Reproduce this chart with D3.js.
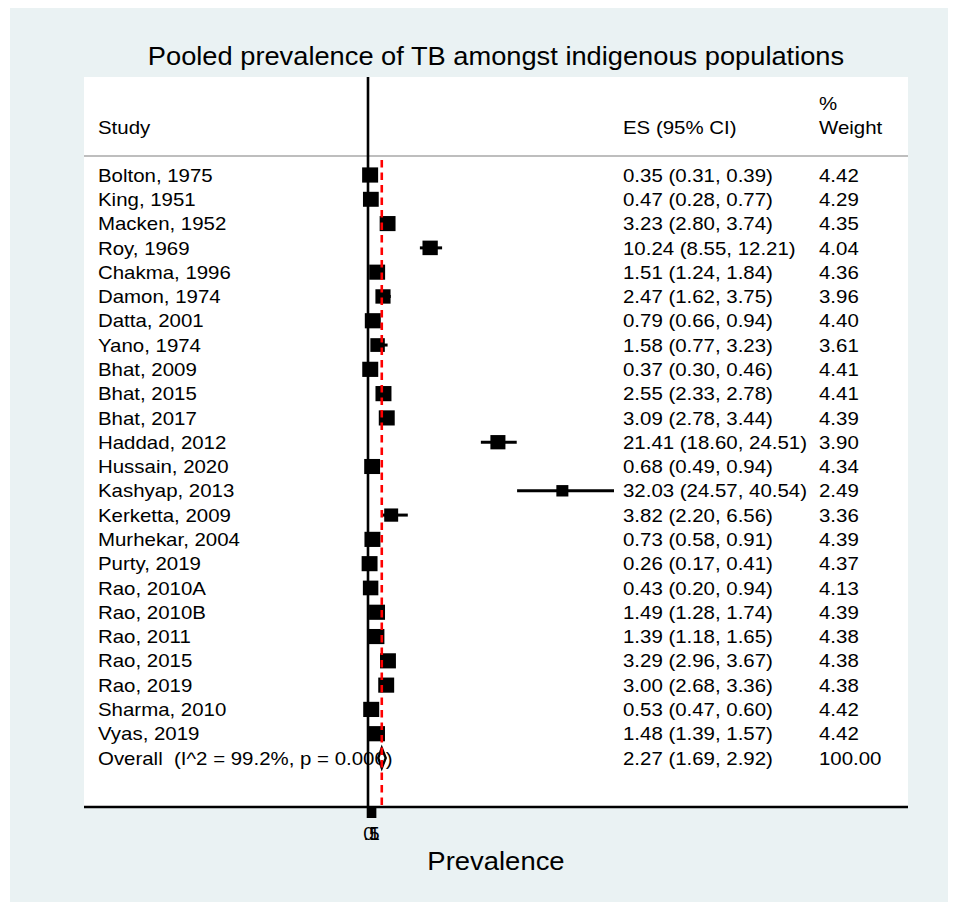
<!DOCTYPE html>
<html>
<head>
<meta charset="utf-8">
<script src="https://cdn.jsdelivr.net/npm/d3@7"></script>
<style>
  html, body { margin: 0; padding: 0; background: #ffffff; }
  svg { display: block; }
  text { font-family: "Liberation Sans", Arial, Helvetica, sans-serif; fill: #000; white-space: pre; }
</style>
</head>
<body>
<svg id="chart" width="958" height="910"></svg>
<script>
// ---------------- Data ----------------
const titleText = "Pooled prevalence of TB amongst indigenous populations";
const xLabel = "Prevalence";
const studies = ["Bolton, 1975", "King, 1951", "Macken, 1952", "Roy, 1969", "Chakma, 1996",
  "Damon, 1974", "Datta, 2001", "Yano, 1974", "Bhat, 2009", "Bhat, 2015", "Bhat, 2017",
  "Haddad, 2012", "Hussain, 2020", "Kashyap, 2013", "Kerketta, 2009", "Murhekar, 2004",
  "Purty, 2019", "Rao, 2010A", "Rao, 2010B", "Rao, 2011", "Rao, 2015", "Rao, 2019",
  "Sharma, 2010", "Vyas, 2019"];
const es = [0.35, 0.47, 3.23, 10.24, 1.51, 2.47, 0.79, 1.58, 0.37, 2.55, 3.09, 21.41, 0.68,
  32.03, 3.82, 0.73, 0.26, 0.43, 1.49, 1.39, 3.29, 3.00, 0.53, 1.48];
const lo = [0.31, 0.28, 2.80, 8.55, 1.24, 1.62, 0.66, 0.77, 0.30, 2.33, 2.78, 18.60, 0.49,
  24.57, 2.20, 0.58, 0.17, 0.20, 1.28, 1.18, 2.96, 2.68, 0.47, 1.39];
const hi = [0.39, 0.77, 3.74, 12.21, 1.84, 3.75, 0.94, 3.23, 0.46, 2.78, 3.44, 24.51, 0.94,
  40.54, 6.56, 0.91, 0.41, 0.94, 1.74, 1.65, 3.67, 3.36, 0.60, 1.57];
const weights = [4.42, 4.29, 4.35, 4.04, 4.36, 3.96, 4.40, 3.61, 4.41, 4.41, 4.39, 3.90, 4.34,
  2.49, 3.36, 4.39, 4.37, 4.13, 4.39, 4.38, 4.38, 4.38, 4.42, 4.42];
const overallLabel = "Overall  (I^2 = 99.2%, p = 0.000)";
const overallES = [2.27, 1.69, 2.92];   // estimate, lower, upper
const overallWeight = 100.00;
const tickValues = [0, 0.5, 1];
const tickLabels = ["0", ".5", "1"];
const headers = { study: "Study", es: "ES (95% CI)", pct: "%", weight: "Weight" };

// ---------------- Layout ----------------
const svg = d3.select("#chart");
const bg = "#EAF2F3";
const panel = { left: 84, right: 908, top: 77, bottom: 807 };
const fs = 19;
const stretch = 1.075;

svg.append("rect").attr("x", 10).attr("y", 8).attr("width", 938).attr("height", 894).attr("fill", bg);
svg.append("rect").attr("x", panel.left).attr("y", panel.top)
  .attr("width", panel.right - panel.left).attr("height", panel.bottom - panel.top).attr("fill", "#fff");

const x = d3.scaleLinear().domain([0, 40.54]).range([368, 614]);
const nRows = studies.length + 1;
const y = d3.scaleLinear().domain([0, nRows - 1]).range([175, 758]);
const sizeScale = d3.scaleSqrt().domain([0, 4.42]).range([0, 16]);

function widen(sel, k) {
  sel.each(function () {
    const len = this.getComputedTextLength();
    d3.select(this).attr("textLength", len * k).attr("lengthAdjust", "spacingAndGlyphs");
  });
  return sel;
}

// title
widen(svg.append("text").attr("class", "body").attr("x", (panel.left + panel.right) / 2).attr("y", 56)
  .attr("dy", "0.35em").attr("text-anchor", "middle").style("font-size", "26px").text(titleText), 1.048);

// headers
const colStudy = 98, colES = 623, colW = 819;
const hdr = svg.append("g");
hdr.append("text").attr("x", colStudy).attr("y", 127).attr("dy", "0.35em").style("font-size", fs + "px").text(headers.study);
hdr.append("text").attr("x", colES).attr("y", 127).attr("dy", "0.35em").style("font-size", fs + "px").text(headers.es);
hdr.append("text").attr("x", colW).attr("y", 103).attr("dy", "0.35em").style("font-size", fs + "px").text(headers.pct);
hdr.append("text").attr("x", colW).attr("y", 127).attr("dy", "0.35em").style("font-size", fs + "px").text(headers.weight);
widen(hdr.selectAll("text"), stretch);

// header rule
svg.append("line").attr("x1", panel.left).attr("x2", panel.right).attr("y1", 156).attr("y2", 156)
  .attr("stroke", "#BEBEBE").attr("stroke-width", 2);

// null line
svg.append("line").attr("x1", x(0)).attr("x2", x(0)).attr("y1", panel.top).attr("y2", panel.bottom)
  .attr("stroke", "#000").attr("stroke-width", 2.6);

// rows
const rows = studies.map((s, i) => ({ s, es: es[i], lo: lo[i], hi: hi[i], w: weights[i], i }));

const g = svg.append("g");
g.selectAll("line.ci").data(rows).join("line").attr("class", "ci")
  .attr("x1", d => x(d.lo)).attr("x2", d => x(d.hi))
  .attr("y1", d => y(d.i)).attr("y2", d => y(d.i))
  .attr("stroke", "#000").attr("stroke-width", 3);
g.selectAll("rect.box").data(rows).join("rect").attr("class", "box")
  .attr("x", d => x(d.es) - sizeScale(d.w) / 2)
  .attr("y", d => y(d.i) - sizeScale(d.w) * 0.95 / 2)
  .attr("width", d => sizeScale(d.w)).attr("height", d => sizeScale(d.w) * 0.95)
  .attr("fill", "#000");

const tg = svg.append("g");
tg.selectAll("text.study").data(rows).join("text").attr("class", "study")
  .attr("x", colStudy).attr("y", d => y(d.i)).attr("dy", "0.35em").style("font-size", fs + "px")
  .text(d => d.s);
tg.selectAll("text.es").data(rows).join("text").attr("class", "es")
  .attr("x", colES).attr("y", d => y(d.i)).attr("dy", "0.35em").style("font-size", fs + "px")
  .text(d => `${d.es.toFixed(2)} (${d.lo.toFixed(2)}, ${d.hi.toFixed(2)})`);
tg.selectAll("text.w").data(rows).join("text").attr("class", "w")
  .attr("x", colW).attr("y", d => y(d.i)).attr("dy", "0.35em").style("font-size", fs + "px")
  .text(d => d.w.toFixed(2));

// overall
const oy = y(nRows - 1);
tg.append("text").attr("x", colStudy).attr("y", oy).attr("dy", "0.35em").style("font-size", fs + "px").text(overallLabel);
tg.append("text").attr("x", colES).attr("y", oy).attr("dy", "0.35em").style("font-size", fs + "px")
  .text(`${overallES[0].toFixed(2)} (${overallES[1].toFixed(2)}, ${overallES[2].toFixed(2)})`);
tg.append("text").attr("x", colW).attr("y", oy).attr("dy", "0.35em").style("font-size", fs + "px").text(overallWeight.toFixed(2));
widen(tg.selectAll("text"), stretch);

svg.append("path")
  .attr("d", d3.line()([[x(overallES[1]), oy], [x(overallES[0]), oy - 10], [x(overallES[2]), oy], [x(overallES[0]), oy + 10]]) + "Z")
  .attr("fill", "#fff").attr("stroke", "#000").attr("stroke-width", 2.4);

// pooled dashed line
svg.append("line").attr("x1", x(overallES[0])).attr("x2", x(overallES[0]))
  .attr("y1", 160).attr("y2", panel.bottom)
  .attr("stroke", "#FF0000").attr("stroke-width", 2.6).attr("stroke-dasharray", "7.5,5");

// x axis
const axis = d3.axisBottom(x).tickValues(tickValues).tickFormat((d, i) => tickLabels[i]).tickSize(11).tickSizeOuter(0);
const ax = svg.append("g").attr("transform", `translate(0,${panel.bottom})`).call(axis);
ax.select(".domain").remove();
ax.selectAll(".tick line").attr("stroke", "#000").attr("stroke-width", 3.6);
ax.selectAll(".tick text").style("font-size", fs + "px").style("font-family", "Liberation Sans, Arial, sans-serif")
  .attr("y", 20).attr("fill", "#000");
svg.append("line").attr("x1", panel.left).attr("x2", panel.right).attr("y1", panel.bottom).attr("y2", panel.bottom)
  .attr("stroke", "#000").attr("stroke-width", 2.6);

widen(svg.append("text").attr("x", (panel.left + panel.right) / 2).attr("y", 861).attr("dy", "0.35em")
  .attr("text-anchor", "middle").style("font-size", "26px").text(xLabel), 1.055);
</script>
</body>
</html>
